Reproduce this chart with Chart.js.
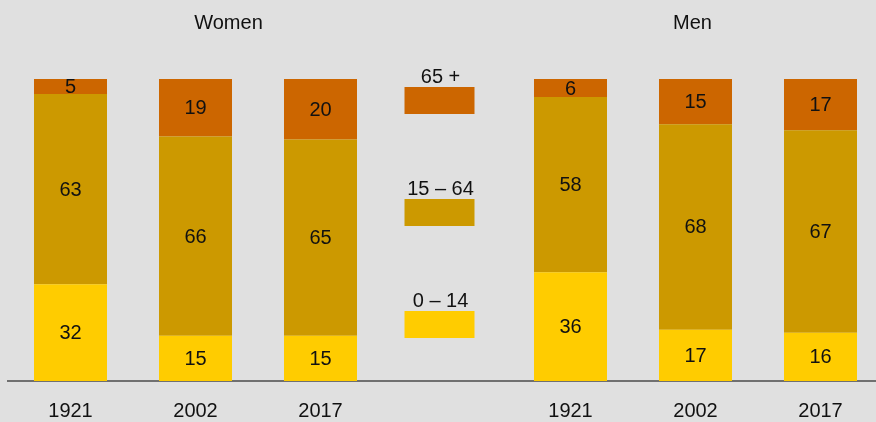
<!DOCTYPE html>
<html>
<head>
<meta charset="utf-8">
<script src="https://cdn.jsdelivr.net/npm/chart.js@4.4.0/dist/chart.umd.min.js"></script>
<style>
  html, body { margin: 0; padding: 0; background: #e0e0e0; overflow: hidden; width: 876px; height: 422px; }
  #wrap { width: 883px; height: 422px; }
</style>
</head>
<body>
<div id="wrap"><canvas id="c" width="883" height="422"></canvas></div>
<script>
// ---- Data ----
const categories = ['1921', '2002', '2017', '', '1921', '2002', '2017'];
const age0to14  = [32, 15, 15, null, 36, 17, 16];
const age15to64 = [63, 66, 65, null, 58, 68, 67];
const age65plus = [5, 19, 20, null, 6, 15, 17];
const seriesNames = ['0 – 14', '15 – 64', '65 +'];
const groupTitles = ['Women', 'Men'];

const colors = { young: '#FFCC00', mid: '#CC9900', old: '#CC6600' };
const FONT = '"Liberation Sans", Arial, sans-serif';

const valueLabels = {
  id: 'valueLabels',
  afterDatasetsDraw(chart) {
    const ctx = chart.ctx;
    ctx.save();
    ctx.font = '20px ' + FONT;
    ctx.fillStyle = '#111';
    ctx.textAlign = 'center';
    ctx.textBaseline = 'middle';
    chart.data.datasets.forEach((ds, di) => {
      const meta = chart.getDatasetMeta(di);
      meta.data.forEach((el, i) => {
        const v = ds.data[i];
        if (v == null) return;
        ctx.fillText(String(v), el.x, (el.y + el.base) / 2 + 1);
      });
    });
    ctx.restore();
  }
};

const extras = {
  id: 'extras',
  afterDraw(chart) {
    const ctx = chart.ctx;
    const xs = chart.scales.x;
    ctx.save();
    ctx.font = '20px ' + FONT;
    ctx.fillStyle = '#111';
    ctx.textAlign = 'center';
    ctx.textBaseline = 'middle';
    // group titles
    ctx.fillText(groupTitles[0], xs.getPixelForValue(1) + 33, 23);
    ctx.fillText(groupTitles[1], xs.getPixelForValue(5) - 3, 23);
    // legend in middle slot
    const cx = xs.getPixelForValue(3) - 6;
    const items = [
      { label: seriesNames[2], color: colors.old, top: 87 },
      { label: seriesNames[1], color: colors.mid, top: 199 },
      { label: seriesNames[0], color: colors.young, top: 311 }
    ];
    items.forEach(it => {
      ctx.fillStyle = it.color;
      ctx.fillRect(cx - 35, it.top, 70, 27);
      ctx.fillStyle = '#111';
      ctx.fillText(it.label, cx + 1, it.top - 10);
    });
    ctx.restore();
  }
};

new Chart(document.getElementById('c'), {
  type: 'bar',
  data: {
    labels: categories,
    datasets: [
      { label: seriesNames[0], data: age0to14, backgroundColor: colors.young },
      { label: seriesNames[1], data: age15to64, backgroundColor: colors.mid },
      { label: seriesNames[2], data: age65plus, backgroundColor: colors.old }
    ]
  },
  options: {
    responsive: false,
    animation: false,
    events: [],
    layout: { padding: { left: 8, right: 0, top: 79, bottom: 0 } },
    datasets: { bar: { barPercentage: 0.584, categoryPercentage: 1.0, borderWidth: 0 } },
    plugins: { legend: { display: false }, tooltip: { enabled: false }, title: { display: false } },
    scales: {
      x: {
        stacked: true,
        grid: { display: false, drawTicks: false },
        border: { display: true, color: '#707070', width: 2 },
        ticks: { color: '#111', font: { family: FONT, size: 20 }, padding: 18, maxRotation: 0, autoSkip: false },
        afterFit(scale) { scale.height = 41; }
      },
      y: {
        stacked: true,
        display: false,
        min: 0,
        max: 100
      }
    }
  },
  plugins: [valueLabels, extras]
});
</script>
</body>
</html>
